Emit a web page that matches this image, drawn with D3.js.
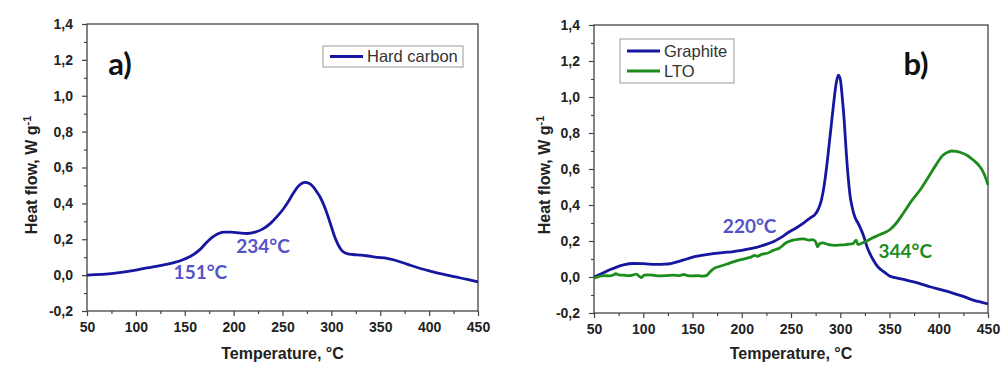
<!DOCTYPE html>
<html>
<head>
<meta charset="utf-8">
<script src="https://cdn.jsdelivr.net/npm/d3@7"></script>
<style>
  html, body { margin: 0; padding: 0; background: #fff; }
  svg { display: block; }
</style>
</head>
<body>
<svg id="chart" width="1002" height="365"></svg>
<script>
// ---- Data: DSC heat flow vs temperature ----
const xTicks = [50, 100, 150, 200, 250, 300, 350, 400, 450];
const yTicks = [-0.2, 0.0, 0.2, 0.4, 0.6, 0.8, 1.0, 1.2, 1.4];

// Panel a) hard carbon
const hardCarbonT = [50, 77, 100, 111, 125, 138, 150, 159, 166, 172, 178, 183, 190, 198, 206, 214, 222, 230, 238, 245, 251, 256, 261, 266, 270, 273, 277, 281, 285, 289, 293, 297, 300, 303, 306, 309, 312, 316, 322, 330, 336, 345, 357, 367, 378, 391, 403, 415, 427, 439, 450];
const hardCarbonQ = [0.000, 0.010, 0.028, 0.040, 0.053, 0.068, 0.090, 0.115, 0.145, 0.180, 0.210, 0.228, 0.240, 0.240, 0.235, 0.232, 0.240, 0.258, 0.290, 0.330, 0.370, 0.410, 0.456, 0.495, 0.512, 0.517, 0.512, 0.495, 0.465, 0.430, 0.381, 0.320, 0.270, 0.220, 0.180, 0.150, 0.130, 0.120, 0.115, 0.112, 0.108, 0.100, 0.093, 0.080, 0.060, 0.037, 0.020, 0.004, -0.010, -0.024, -0.038];

// Panel b) graphite
const graphiteT = [50, 58, 66, 73, 80, 90, 100, 113, 122, 129, 137, 144, 152, 161, 171, 181, 190, 198, 206, 215, 224, 232, 240, 248, 256, 264, 270, 274, 278, 281, 284, 287, 290, 293, 296, 298, 300, 302, 304, 306, 308, 310, 312, 315, 318, 321, 324, 327, 330, 334, 338, 344, 350, 358, 367, 380, 391, 403, 415, 425, 435, 443, 450];
const graphiteQ = [0.000, 0.020, 0.040, 0.055, 0.067, 0.075, 0.074, 0.070, 0.071, 0.076, 0.088, 0.100, 0.113, 0.122, 0.130, 0.136, 0.140, 0.146, 0.155, 0.165, 0.180, 0.196, 0.220, 0.250, 0.275, 0.305, 0.330, 0.345, 0.380, 0.430, 0.520, 0.650, 0.800, 0.950, 1.080, 1.122, 1.100, 1.000, 0.870, 0.700, 0.557, 0.450, 0.390, 0.330, 0.300, 0.265, 0.224, 0.170, 0.131, 0.090, 0.057, 0.030, 0.006, -0.006, -0.017, -0.035, -0.054, -0.072, -0.091, -0.108, -0.128, -0.140, -0.150];

// Panel b) LTO
const ltoT = [50, 55, 60, 66, 70, 72, 75, 80, 86, 90, 93, 96, 98, 101, 104, 110, 117, 124, 130, 137, 141, 145, 150, 155, 160, 164, 168, 172, 178, 185, 192, 198, 205, 210, 213, 216, 220, 226, 232, 238, 245, 252, 258, 263, 268, 272, 275, 277, 279, 282, 288, 295, 302, 308, 313, 316, 318, 320, 325, 332, 340, 350, 357, 364, 372, 381, 390, 398, 404, 408, 413, 418, 423, 429, 435, 440, 444, 448, 450];
const ltoQ = [-0.006, 0.004, 0.008, 0.006, 0.012, 0.018, 0.012, 0.010, 0.008, 0.012, 0.016, 0.004, -0.004, 0.010, 0.012, 0.010, 0.006, 0.008, 0.010, 0.008, 0.014, 0.008, 0.006, 0.008, 0.005, 0.008, 0.030, 0.048, 0.060, 0.072, 0.085, 0.095, 0.104, 0.112, 0.120, 0.115, 0.126, 0.132, 0.148, 0.160, 0.190, 0.205, 0.210, 0.212, 0.205, 0.208, 0.196, 0.168, 0.185, 0.190, 0.180, 0.176, 0.178, 0.182, 0.185, 0.205, 0.180, 0.183, 0.195, 0.215, 0.235, 0.261, 0.300, 0.354, 0.420, 0.483, 0.560, 0.630, 0.675, 0.690, 0.700, 0.698, 0.690, 0.675, 0.650, 0.625, 0.595, 0.545, 0.511];

// ---- Styling ----
const BLUE = "#1616a0";
const GREEN = "#1c8c1c";
const NOTE_BLUE = "#5454c8";
const AXIS = "#444";
const FONT = "'Liberation Sans', Arial, sans-serif";
const NOTE_FONT = "Lato, 'Open Sans', sans-serif";

const svg = d3.select("#chart");
svg.append("rect").attr("width", 1002).attr("height", 365).attr("fill", "#fff");

const zip = (xs, ys) => xs.map((x, i) => ({ x, y: ys[i] }));
const fmtY = d => d.toFixed(1).replace(".", ",").replace("\u2212", "-");
const mids = arr => arr.slice(1).map((v, i) => (v + arr[i]) / 2);

function drawPanel(p) {
  const x = d3.scaleLinear().domain([50, 450]).range([p.left, p.right]);
  const y = d3.scaleLinear().domain([-0.2, 1.4]).range([p.bottom, p.top]);
  const g = svg.append("g");

  // minor ticks
  g.append("g")
    .attr("transform", `translate(0,${p.bottom})`)
    .call(d3.axisBottom(x).tickValues(mids(xTicks)).tickSize(3).tickFormat(""))
    .call(a => a.select(".domain").remove())
    .call(a => a.selectAll("line").attr("stroke", AXIS).attr("stroke-width", 1.2));
  g.append("g")
    .attr("transform", `translate(${p.left},0)`)
    .call(d3.axisLeft(y).tickValues(mids(yTicks)).tickSize(3).tickFormat(""))
    .call(a => a.select(".domain").remove())
    .call(a => a.selectAll("line").attr("stroke", AXIS).attr("stroke-width", 1.2));

  // major ticks + labels
  const xa = g.append("g")
    .attr("transform", `translate(0,${p.bottom})`)
    .call(d3.axisBottom(x).tickValues(xTicks).tickSize(5).tickPadding(6).tickFormat(d3.format("d")));
  const ya = g.append("g")
    .attr("transform", `translate(${p.left},0)`)
    .call(d3.axisLeft(y).tickValues(yTicks).tickSize(5).tickPadding(9).tickFormat(fmtY));
  [xa, ya].forEach(a => {
    a.select(".domain").remove();
    a.selectAll("line").attr("stroke", AXIS).attr("stroke-width", 1.2);
    a.selectAll("text").attr("fill", "#222").attr("font-family", FONT)
      .attr("font-weight", "bold").attr("font-size", 14);
  });

  // frame
  g.append("rect")
    .attr("x", p.left).attr("y", p.top)
    .attr("width", p.right - p.left).attr("height", p.bottom - p.top)
    .attr("fill", "none").attr("stroke", AXIS).attr("stroke-width", 1.3);

  // axis titles
  g.append("text")
    .attr("x", (p.left + p.right) / 2).attr("y", 359)
    .attr("text-anchor", "middle").attr("font-family", FONT)
    .attr("font-weight", "bold").attr("font-size", 16).attr("fill", "#222")
    .text("Temperature, \u00B0C");
  const yt = g.append("text")
    .attr("transform", `translate(${p.left - p.yTitleOffset},${175}) rotate(-90)`)
    .attr("text-anchor", "middle").attr("font-family", FONT)
    .attr("font-weight", "bold").attr("font-size", 16).attr("fill", "#222");
  yt.append("tspan").text("Heat flow, W g");
  yt.append("tspan").attr("dy", "-0.55em").attr("font-size", 11).text("-1");

  // curves
  const line = d3.line().x(d => x(d.x)).y(d => y(d.y)).curve(d3.curveMonotoneX);
  p.series.forEach(s => {
    g.append("path")
      .datum(zip(s.t, s.q))
      .attr("d", line)
      .attr("fill", "none").attr("stroke", s.color)
      .attr("stroke-width", 2.8).attr("stroke-linejoin", "round");
  });

  // peak annotations
  p.notes.forEach(n => {
    g.append("text")
      .attr("x", x(n.t)).attr("y", y(n.q))
      .attr("text-anchor", "middle").attr("font-family", NOTE_FONT)
      .attr("font-weight", "bold").attr("font-size", 19).attr("fill", n.color)
      .text(n.label);
  });

  // panel letter
  g.append("text")
    .attr("x", p.letterX).attr("y", 75)
    .attr("text-anchor", "middle").attr("font-family", NOTE_FONT)
    .attr("font-weight", "bold").attr("font-size", 31).attr("fill", "#111")
    .text(p.letter);

  // legend
  const L = p.legend;
  const lg = g.append("g");
  lg.append("rect")
    .attr("x", L.x).attr("y", L.y).attr("width", L.w).attr("height", L.rowH * p.series.length + 4)
    .attr("fill", "#fff").attr("stroke", "#999").attr("stroke-width", 1);
  p.series.forEach((s, i) => {
    const cy = L.y + 2 + L.rowH * (i + 0.5);
    lg.append("line")
      .attr("x1", L.x + 7).attr("x2", L.x + 40).attr("y1", cy).attr("y2", cy)
      .attr("stroke", s.color).attr("stroke-width", 2.8);
    lg.append("text")
      .attr("x", L.x + 44).attr("y", cy).attr("dy", "0.35em")
      .attr("font-family", FONT).attr("font-size", 16.5).attr("fill", "#333")
      .text(s.name);
  });
}

drawPanel({
  left: 87, right: 478, top: 24, bottom: 311, yTitleOffset: 50,
  letter: "a)", letterX: 120,
  series: [{ name: "Hard carbon", t: hardCarbonT, q: hardCarbonQ, color: BLUE }],
  notes: [
    { label: "151\u00B0C", t: 166, q: -0.024, color: NOTE_BLUE },
    { label: "234\u00B0C", t: 230, q: 0.124, color: NOTE_BLUE }
  ],
  legend: { x: 323, y: 46, w: 140, rowH: 17 }
});

drawPanel({
  left: 594, right: 988, top: 25, bottom: 313, yTitleOffset: 44,
  letter: "b)", letterX: 916,
  series: [
    { name: "Graphite", t: graphiteT, q: graphiteQ, color: BLUE },
    { name: "LTO", t: ltoT, q: ltoQ, color: GREEN }
  ],
  notes: [
    { label: "220\u00B0C", t: 208, q: 0.246, color: NOTE_BLUE },
    { label: "344\u00B0C", t: 366, q: 0.104, color: GREEN }
  ],
  legend: { x: 620, y: 39, w: 114, rowH: 20 }
});
</script>
</body>
</html>
